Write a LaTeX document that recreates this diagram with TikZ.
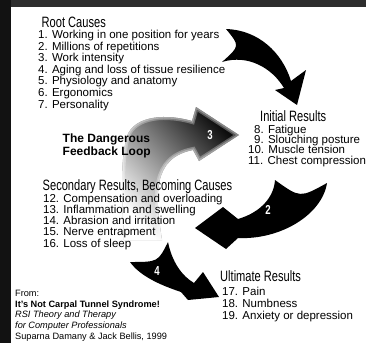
\documentclass[tikz,border=0pt]{standalone}
\usepackage{fontspec}
\setmainfont{Liberation Sans}
\usepackage{graphicx}
\usetikzlibrary{positioning}

\tikzset{
  head/.style={anchor=base west,inner sep=0pt,font=\fontsize{15}{16}\selectfont},
  entry/.style={anchor=base west,inner sep=0pt,font=\fontsize{11.5}{12}\selectfont},
  credit/.style={anchor=base west,inner sep=0pt,font=\fontsize{9.2}{10}\selectfont},
  loopnote/.style={anchor=base west,inner sep=0pt,font=\bfseries\fontsize{12}{13}\selectfont},
  numlabel/.style={text=white,inner sep=0pt,font=\bfseries\fontsize{13}{13}\selectfont},
  soften/.style={postaction={draw=white,opacity=.3,line width=6pt},
                 postaction={draw=white,opacity=.3,line width=3pt}}
}
\newcommand{\narrow}[1]{\scalebox{0.74}[1]{#1}}

\begin{document}
\begin{tikzpicture}[x=1pt,y=-1pt]
\useasboundingbox (0,0) rectangle (366,343);
\fill[white] (0,0) rectangle (366,343);
\fill[black!82] (0,0) rectangle (366,7);
\fill[black!93] (0,0) rectangle (11,343);

% feedback arrow (grey)
\fill[top color=black!95,middle color=black!40,bottom color=white,shading angle=-47,soften]
  (192,121) -- (196,107) -- (239,135) -- (199,161) -- (193,150)
  .. controls (152,158) and (155,195) .. (162,240) -- (124,240)
  .. controls (122,200) and (120,165) .. (126,140)
  .. controls (130,118) and (160,112) .. cycle;
% black arrows
\fill (226,29) .. controls (258,30) and (282,52) .. (291,81) -- (306,70) -- (297,105)
  -- (275,90) -- (284,88) .. controls (272,68) and (248,54) .. (222,62)
  .. controls (240,46) .. cycle;
\fill (275,180) .. controls (300,198) .. (327,183) .. controls (322,215) and (280,240) .. (238,238)
  -- (226,249) -- (195,228) -- (223,207) -- (238,219)
  .. controls (262,212) and (274,196) .. cycle;
\fill (168,242) .. controls (172,262) and (182,276) .. (194,283) -- (203,272) -- (219,297)
  -- (188,300) -- (181,292) .. controls (160,285) and (140,276) .. (130,262)
  .. controls (158,262) .. cycle;
\node[numlabel] (n3) at (210,135) {\narrow{3}};
\node[numlabel] (n2) at (268,210) {\narrow{2}};
\node[numlabel] (n4) at (157,271) {\narrow{4}};

% lists
\node[head] (root) at (41.5,27.5) {\narrow{Root Causes}};
\foreach \txt [count=\i from 0] in {1. Working in one position for years,
    2. Millions of repetitions, 3. Work intensity,
    4. Aging and loss of tissue resilience, 5. Physiology and anatomy,
    6. Ergonomics, 7. Personality}
  \node[entry] (root\i) at (38,38.5+11.6*\i) {\txt};

\node[head] (initial) at (260,121.5) {\narrow{Initial Results}};
\foreach \xx/\txt [count=\i from 0] in {254/8. Fatigue, 254/9. Slouching posture,
    248/10. Muscle tension, 248/11. Chest compression}
  \node[entry] (init\i) at (\xx,133.5+10.2*\i) {\txt};

\node[loopnote] (loop1) at (62.5,142.5) {The Dangerous};
\node[loopnote] (loop2) at (62.5,155.5) {Feedback Loop};

\node[head] (second) at (42.5,190) {\narrow{Secondary Results, Becoming Causes}};
\foreach \txt [count=\i from 0] in {12. Compensation and overloading,
    13. Inflammation and swelling, 14. Abrasion and irritation,
    15. Nerve entrapment, 16. Loss of sleep}
  \node[entry] (sec\i) at (43,202+11.25*\i) {\txt};

\node[head] (ultimate) at (220,281) {\narrow{Ultimate Results}};
\foreach \txt [count=\i from 0] in {17. Pain, 18. Numbness, 19. Anxiety or depression}
  \node[entry] (ult\i) at (222,295+12*\i) {\txt};

% source
\foreach \txt [count=\i from 0] in {From:, \textbf{It's Not Carpal Tunnel Syndrome!},
    \textit{RSI Theory and Therapy}, \textit{for Computer Professionals},
    {Suparna Damany \& Jack Bellis, 1999}}
  \node[credit] (src\i) at (15,296.5+10.7*\i) {\txt};
\end{tikzpicture}
\end{document}
